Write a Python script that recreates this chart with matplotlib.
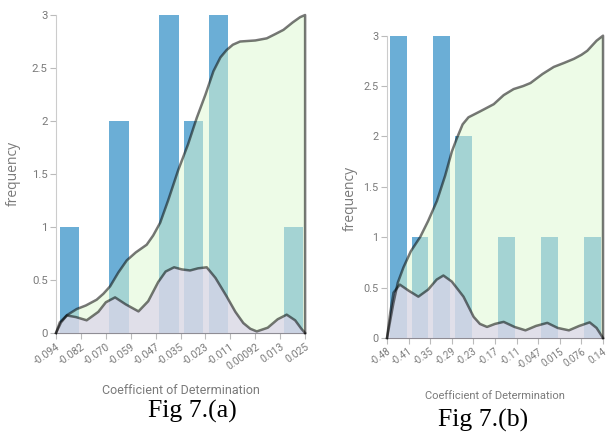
import matplotlib
matplotlib.use("Agg")
import matplotlib.pyplot as plt

# ---- data ----
yticks = [0, 0.5, 1, 1.5, 2, 2.5, 3]
ytick_labels = ['0', '0.5', '1', '1.5', '2', '2.5', '3']

# Fig 7.(a)
a_ticks = ['-0.094', '-0.082', '-0.070', '-0.059', '-0.047', '-0.035',
           '-0.023', '-0.011', '0.00092', '0.013', '0.025']
a_counts = [1, 0, 2, 0, 3, 2, 3, 0, 0, 1]
a_kde_x = [0, 0.15, 0.43, 0.8, 1.23, 1.7, 2.0, 2.37, 2.8, 3.31, 3.7, 4.1, 4.4,
           4.74, 5.05, 5.38, 5.7, 6.05, 6.4, 6.85, 7.2, 7.52, 7.8, 8.06, 8.5,
           8.9, 9.26, 9.6, 9.85, 10]
a_kde_y = [0, 0.1, 0.166, 0.15, 0.12, 0.2, 0.29, 0.336, 0.27, 0.204, 0.3, 0.48,
           0.58, 0.62, 0.6, 0.59, 0.61, 0.62, 0.52, 0.345, 0.2, 0.094, 0.04,
           0.015, 0.05, 0.13, 0.173, 0.12, 0.04, 0]
a_cdf_x = [0, 0.2, 0.45, 0.83, 1.2, 1.63, 1.9, 2.17, 2.5, 2.84, 3.2, 3.64, 3.9,
           4.18, 4.5, 4.91, 5.3, 5.65, 6.0, 6.32, 6.6, 6.85, 7.1, 7.39, 8.0,
           8.46, 8.8, 9.13, 9.5, 9.8, 10, 10]
a_cdf_y = [0, 0.1, 0.17, 0.226, 0.26, 0.314, 0.37, 0.44, 0.57, 0.685, 0.76,
           0.833, 0.92, 1.04, 1.25, 1.54, 1.78, 2.03, 2.25, 2.47, 2.6, 2.67,
           2.72, 2.75, 2.76, 2.78, 2.82, 2.86, 2.93, 2.98, 3, 0]

# Fig 7.(b)
b_ticks = ['-0.48', '-0.41', '-0.35', '-0.29', '-0.23', '-0.17', '-0.11',
           '-0.047', '0.015', '0.076', '0.14']
b_counts = [3, 1, 3, 2, 0, 1, 0, 1, 0, 1]
b_kde_x = [0, 0.15, 0.3, 0.59, 1.0, 1.45, 1.9, 2.3, 2.61, 3.0, 3.54, 4.01, 4.3,
           4.63, 5.0, 5.4, 5.9, 6.41, 6.9, 7.42, 7.9, 8.42, 8.9, 9.38, 9.7, 10]
b_kde_y = [0, 0.25, 0.45, 0.53, 0.47, 0.41, 0.48, 0.58, 0.62, 0.56, 0.41, 0.21,
           0.14, 0.11, 0.14, 0.16, 0.11, 0.076, 0.12, 0.15, 0.1, 0.076, 0.12,
           0.155, 0.1, 0]
b_cdf_x = [0, 0.29, 0.5, 0.76, 1.1, 1.53, 1.9, 2.31, 2.69, 3.0, 3.23, 3.5, 3.77,
           4.32, 4.94, 5.4, 5.86, 6.3, 6.64, 7.2, 7.72, 8.2, 8.65, 9.0, 9.27,
           9.7, 10, 10]
b_cdf_y = [0, 0.34, 0.55, 0.70, 0.86, 1.0, 1.16, 1.36, 1.61, 1.85, 1.98, 2.12,
           2.19, 2.25, 2.32, 2.41, 2.47, 2.5, 2.53, 2.62, 2.69, 2.73, 2.77,
           2.81, 2.85, 2.95, 3, 0]

BAR = '#6baed6'
GREEN = (221 / 255, 249 / 255, 209 / 255)
LAV = (219 / 255, 212 / 255, 234 / 255)
TXT = '#7a7a7a'
SANS = ['Roboto', 'DejaVu Sans']


def panel(ax, ticks, counts, kde_x, kde_y, cdf_x, cdf_y, xsize, ysize):
    xs = [i + 0.14 for i in range(len(counts))]
    ax.bar(xs, counts, width=0.78, align='edge', color=BAR, zorder=1)
    ax.fill(cdf_x, cdf_y, color=GREEN, alpha=0.5, lw=0, zorder=2)
    ax.fill_between(kde_x, kde_y, 0, color=LAV, alpha=0.7, lw=0, zorder=3)
    ax.plot(cdf_x, cdf_y, color='black', alpha=0.53, lw=1.8, zorder=4,
            clip_on=False, solid_joinstyle='round')
    ax.plot(kde_x, kde_y, color='black', alpha=0.53, lw=1.8, zorder=4,
            clip_on=False, solid_joinstyle='round')

    ax.set_xlim(0, 10)
    ax.set_ylim(0, 3)
    ax.set_xticks(range(len(ticks)))
    ax.set_xticklabels(ticks, rotation=35, ha='right', rotation_mode='anchor',
                       family=SANS, fontsize=xsize, color=TXT)
    ax.set_yticks(yticks)
    ax.set_yticklabels(ytick_labels, family=SANS, fontsize=ysize, color=TXT)
    ax.tick_params(axis='both', length=4, width=0.8, color='#bbbbbb', pad=2)
    for s in ['top', 'right']:
        ax.spines[s].set_visible(False)
    ax.spines['left'].set_color('#cccccc')
    ax.spines['bottom'].set_color('#666666')
    ax.set_facecolor('white')


fig = plt.figure(figsize=(6.09, 4.34), dpi=100)
ax1 = fig.add_axes([0.092, 0.2327, 0.409, 0.7327])
ax2 = fig.add_axes([0.6355, 0.2212, 0.3547, 0.6966])

panel(ax1, a_ticks, a_counts, a_kde_x, a_kde_y, a_cdf_x, a_cdf_y, 7.5, 8.2)
panel(ax2, b_ticks, b_counts, b_kde_x, b_kde_y, b_cdf_x, b_cdf_y, 7, 7.8)

# axis titles and captions
fig.text(13 / 609, 1 - 173 / 434, 'frequency', rotation=90, ha='center',
         va='center', family='Open Sans', fontsize=10, color=TXT)
fig.text(350 / 609, 1 - 198 / 434, 'frequency', rotation=90, ha='center',
         va='center', family='Open Sans', fontsize=10, color=TXT)
fig.text(181 / 609, 1 - 391 / 434, 'Coefficient of Determination',
         ha='center', va='center', family=SANS, fontsize=9, color=TXT)
fig.text(495 / 609, 1 - 396 / 434, 'Coefficient of Determination',
         ha='center', va='center', family=SANS, fontsize=8, color=TXT)
fig.text(192 / 609, 1 - 411 / 434, 'Fig 7.(a)', ha='center', va='center',
         family='Liberation Serif', fontsize=18.5, color='black')
fig.text(483 / 609, 1 - 420 / 434, 'Fig 7.(b)', ha='center', va='center',
         family='Liberation Serif', fontsize=18.5, color='black')

fig.savefig('out.png', dpi=100)
